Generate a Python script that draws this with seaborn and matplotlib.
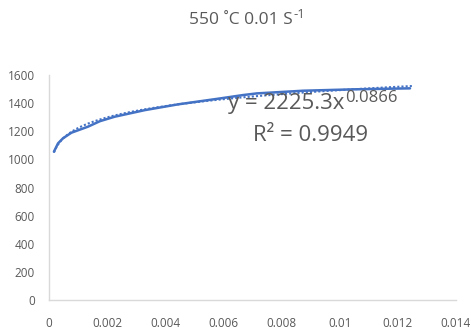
import numpy as np
import pandas as pd
import matplotlib
matplotlib.use("Agg")
import matplotlib.pyplot as plt
import seaborn as sns

strain = [0.00017, 0.00031, 0.00048, 0.00077, 0.00134, 0.00175, 0.00226, 0.0033, 0.00444,
          0.00588, 0.00667, 0.00715, 0.00874, 0.0105, 0.01242]
stress = [1055, 1114, 1150, 1190, 1233, 1272, 1304, 1351, 1392,
          1434, 1458, 1470, 1489, 1499, 1506]
fit_a = 2225.3
fit_b = 0.0866
r2 = 0.9949
x_ticks = [0, 0.002, 0.004, 0.006, 0.008, 0.010, 0.012, 0.014]
x_labels = ["0", "0.002", "0.004", "0.006", "0.008", "0.01", "0.012", "0.014"]
y_ticks = [0, 200, 400, 600, 800, 1000, 1200, 1400, 1600]

sns.set_theme(style="white")
plt.rcParams['font.family'] = ['Open Sans', 'DejaVu Sans']

fig = plt.figure(figsize=(4.71, 3.31), dpi=100)
ax = fig.add_axes([0.104, 0.094, 0.864, 0.679])

df = pd.DataFrame({"strain": strain, "stress": stress})
sns.lineplot(data=df, x="strain", y="stress", ax=ax, color="#4472C4", linewidth=1.8)

xs = np.linspace(min(strain), 0.0125, 200)
trend = pd.DataFrame({"x": xs, "y": fit_a * xs ** fit_b})
sns.lineplot(data=trend, x="x", y="y", ax=ax, color="#4472C4", linewidth=1.5,
             linestyle=(0, (1, 1)))

ax.set_xlim(0, 0.014)
ax.set_ylim(0, 1600)
ax.set_xticks(x_ticks)
ax.set_xticklabels(x_labels)
ax.set_yticks(y_ticks)
ax.set_xlabel("")
ax.set_ylabel("")
ax.tick_params(axis="x", labelsize=8.5, colors="#595959", length=0, pad=12)
ax.tick_params(axis="y", labelsize=8.5, colors="#595959", length=0, pad=10)
for s in ["top", "right"]:
    ax.spines[s].set_visible(False)
for s in ["left", "bottom"]:
    ax.spines[s].set_color("#d9d9d9")
    ax.spines[s].set_linewidth(1)

fig.text(0.622, 0.94, "550 ˚C 0.01 S", ha="right", va="center",
         fontsize=12.5, color="#595959")
fig.text(0.624, 0.956, "-1", ha="left", va="center",
         fontsize=9.5, color="#595959")

ax.text(0.00616, 1401, f"y = {fit_a}x", ha="left", va="center",
        fontsize=16, color="#595959")
ax.text(0.0102, 1440, f"{fit_b}", ha="left", va="center",
        fontsize=12, color="#595959")
ax.text(0.00702, 1173, f"R² = {r2}", ha="left", va="center",
        fontsize=16, color="#595959")

fig.savefig("out.png", dpi=100)
